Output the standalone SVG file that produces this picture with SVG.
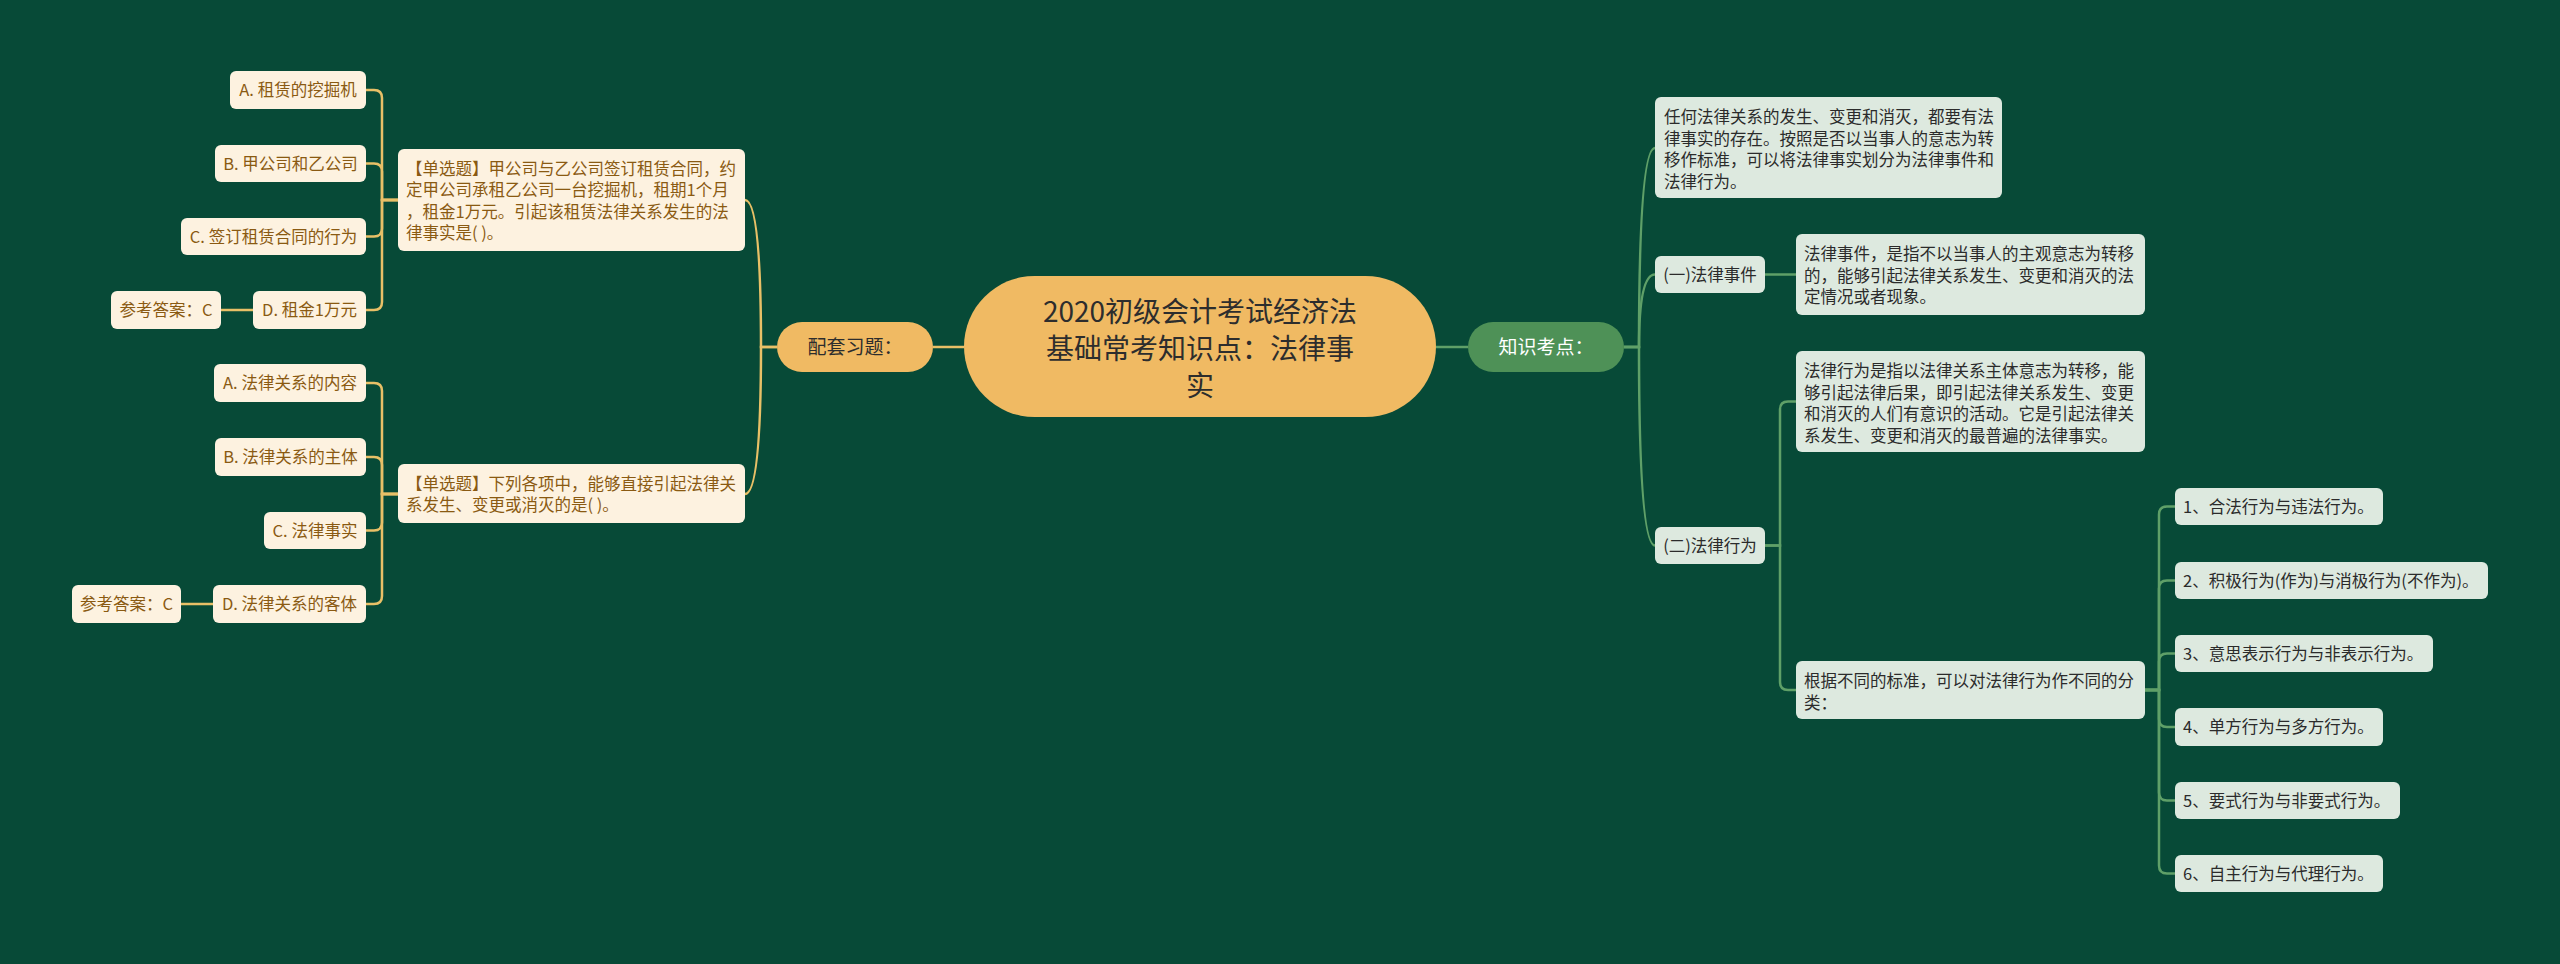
<svg xmlns="http://www.w3.org/2000/svg" width="2560" height="964" viewBox="0 0 2560 964">
<style>
text{font-family:"Noto Sans CJK SC","Noto Sans",sans-serif;}
.bg{fill:#074a37;}
.ly{fill:#fdf2e0;}
.ty{fill:#8a5a12;font-size:16.5px;}
.rg{fill:#dde9df;}
.tg{fill:#2b2b2b;font-size:16.5px;}
.c{text-anchor:middle;}
.cy{fill:none;stroke:#e8c067;stroke-width:2.5;}
.cg{fill:none;stroke:#5fa068;stroke-width:2.5;}
</style>
<rect class="bg" x="0" y="0" width="2560" height="964"/>
<g id="connectors">
<path class="cy" d="M964 347 H933"/>
<path class="cy" d="M777 347 H761 Q761 200 745 200"/>
<path class="cy" d="M777 347 H761 Q761 494 745 494"/>
<path class="cy" d="M398 200 H382 V98 Q382 90 374 90 H366"/>
<path class="cy" d="M398 200 H382 V171.5 Q382 163.5 374 163.5 H366"/>
<path class="cy" d="M398 200 H382 V228.5 Q382 236.5 374 236.5 H366"/>
<path class="cy" d="M398 200 H382 V302 Q382 310 374 310 H366"/>
<path class="cy" d="M253 310 H221"/>
<path class="cy" d="M398 494 H382 V391 Q382 383 374 383 H366"/>
<path class="cy" d="M398 494 H382 V465 Q382 457 374 457 H366"/>
<path class="cy" d="M398 494 H382 V522.5 Q382 530.5 374 530.5 H366"/>
<path class="cy" d="M398 494 H382 V596 Q382 604 374 604 H366"/>
<path class="cy" d="M213 604 H181"/>
<path class="cg" d="M1436 347 H1468"/>
<path class="cg" d="M1624 347 H1639 Q1639 148 1655 148"/>
<path class="cg" d="M1624 347 H1639 Q1639 274.5 1655 274.5"/>
<path class="cg" d="M1624 347 H1639 Q1639 545.5 1655 545.5"/>
<path class="cg" d="M1765 274.5 H1796"/>
<path class="cg" d="M1765 545.5 H1780 V409.5 Q1780 401.5 1788 401.5 H1796"/>
<path class="cg" d="M1765 545.5 H1780 V682 Q1780 690 1788 690 H1796"/>
<path class="cg" d="M2145 690 H2159 V514.5 Q2159 506.5 2167 506.5 H2175"/>
<path class="cg" d="M2145 690 H2159 V588.5 Q2159 580.5 2167 580.5 H2175"/>
<path class="cg" d="M2145 690 H2159 V661.5 Q2159 653.5 2167 653.5 H2175"/>
<path class="cg" d="M2145 690 H2159 V719 Q2159 727 2167 727 H2175"/>
<path class="cg" d="M2145 690 H2159 V792.5 Q2159 800.5 2167 800.5 H2175"/>
<path class="cg" d="M2145 690 H2159 V865.5 Q2159 873.5 2167 873.5 H2175"/>
</g>
<g id="root">
<rect x="964" y="276" width="472" height="141" rx="70.5" fill="#f0ba63"/>
<text class="c" x="1200" y="322" font-size="28" fill="#2d2d2d">2020初级会计考试经济法</text>
<text class="c" x="1200" y="359" font-size="28" fill="#2d2d2d">基础常考知识点：法律事</text>
<text class="c" x="1200" y="396" font-size="28" fill="#2d2d2d">实</text>
</g>
<g id="exercise">
<rect x="777" y="322" width="156" height="50" rx="25" fill="#f0ba63"/>
<text class="c" x="855" y="354" font-size="19" fill="#2d2d2d">配套习题：</text>
</g>
<g id="knowledge">
<rect x="1468" y="322" width="156" height="50" rx="25" fill="#4e9157"/>
<text class="c" x="1546" y="354" font-size="19" fill="#ffffff">知识考点：</text>
</g>
<g id="q1">
<rect class="ly" x="398" y="149" width="347" height="102" rx="6"/>
<text class="ty" x="406" y="175">【单选题】甲公司与乙公司签订租赁合同，约</text>
<text class="ty" x="406" y="196.3">定甲公司承租乙公司一台挖掘机，租期1个月</text>
<text class="ty" x="406" y="217.6">，租金1万元。引起该租赁法律关系发生的法</text>
<text class="ty" x="406" y="238.9">律事实是( )。</text>
</g>
<g id="q1a"><rect class="ly" x="230" y="71" width="136" height="38" rx="6"/><text class="ty c" x="298" y="96">A. 租赁的挖掘机</text></g>
<g id="q1b"><rect class="ly" x="215" y="145" width="151" height="37" rx="6"/><text class="ty c" x="290.5" y="169.5">B. 甲公司和乙公司</text></g>
<g id="q1c"><rect class="ly" x="181" y="218" width="185" height="37" rx="6"/><text class="ty c" x="273.5" y="242.5">C. 签订租赁合同的行为</text></g>
<g id="q1d"><rect class="ly" x="253" y="291" width="113" height="38" rx="6"/><text class="ty c" x="309.5" y="316">D. 租金1万元</text></g>
<g id="q1ans"><rect class="ly" x="111" y="291" width="110" height="38" rx="6"/><text class="ty c" x="166" y="316">参考答案：C</text></g>
<g id="q2">
<rect class="ly" x="398" y="464" width="347" height="59" rx="6"/>
<text class="ty" x="406" y="490">【单选题】下列各项中，能够直接引起法律关</text>
<text class="ty" x="406" y="511.3">系发生、变更或消灭的是( )。</text>
</g>
<g id="q2a"><rect class="ly" x="214" y="364" width="152" height="38" rx="6"/><text class="ty c" x="290" y="389">A. 法律关系的内容</text></g>
<g id="q2b"><rect class="ly" x="215" y="438" width="151" height="38" rx="6"/><text class="ty c" x="290.5" y="463">B. 法律关系的主体</text></g>
<g id="q2c"><rect class="ly" x="264" y="512" width="102" height="37" rx="6"/><text class="ty c" x="315" y="536.5">C. 法律事实</text></g>
<g id="q2d"><rect class="ly" x="213" y="585" width="153" height="38" rx="6"/><text class="ty c" x="289.5" y="610">D. 法律关系的客体</text></g>
<g id="q2ans"><rect class="ly" x="72" y="585" width="109" height="38" rx="6"/><text class="ty c" x="126.5" y="610">参考答案：C</text></g>
<g id="r0">
<rect class="rg" x="1655" y="97" width="347" height="101" rx="6"/>
<text class="tg" x="1664" y="123">任何法律关系的发生、变更和消灭，都要有法</text>
<text class="tg" x="1664" y="144.5">律事实的存在。按照是否以当事人的意志为转</text>
<text class="tg" x="1664" y="166">移作标准，可以将法律事实划分为法律事件和</text>
<text class="tg" x="1664" y="187.5">法律行为。</text>
</g>
<g id="r1"><rect class="rg" x="1655" y="256" width="110" height="37" rx="6"/><text class="tg c" x="1710" y="280.5">(一)法律事件</text></g>
<g id="r1d">
<rect class="rg" x="1796" y="234" width="349" height="81" rx="6"/>
<text class="tg" x="1804" y="260">法律事件，是指不以当事人的主观意志为转移</text>
<text class="tg" x="1804" y="281.5">的，能够引起法律关系发生、变更和消灭的法</text>
<text class="tg" x="1804" y="303">定情况或者现象。</text>
</g>
<g id="r2"><rect class="rg" x="1655" y="527" width="110" height="37" rx="6"/><text class="tg c" x="1710" y="551.5">(二)法律行为</text></g>
<g id="r2a">
<rect class="rg" x="1796" y="351" width="349" height="101" rx="6"/>
<text class="tg" x="1804" y="377">法律行为是指以法律关系主体意志为转移，能</text>
<text class="tg" x="1804" y="398.5">够引起法律后果，即引起法律关系发生、变更</text>
<text class="tg" x="1804" y="420">和消灭的人们有意识的活动。它是引起法律关</text>
<text class="tg" x="1804" y="441.5">系发生、变更和消灭的最普遍的法律事实。</text>
</g>
<g id="r2b">
<rect class="rg" x="1796" y="661" width="349" height="58" rx="6"/>
<text class="tg" x="1804" y="687">根据不同的标准，可以对法律行为作不同的分</text>
<text class="tg" x="1804" y="708.5">类：</text>
</g>
<g id="i1"><rect class="rg" x="2175" y="488" width="208" height="37" rx="6"/><text class="tg" x="2183" y="512.5">1、合法行为与违法行为。</text></g>
<g id="i2"><rect class="rg" x="2175" y="562" width="313" height="37" rx="6"/><text class="tg" x="2183" y="586.5">2、积极行为(作为)与消极行为(不作为)。</text></g>
<g id="i3"><rect class="rg" x="2175" y="635" width="258" height="37" rx="6"/><text class="tg" x="2183" y="659.5">3、意思表示行为与非表示行为。</text></g>
<g id="i4"><rect class="rg" x="2175" y="708" width="208" height="38" rx="6"/><text class="tg" x="2183" y="733">4、单方行为与多方行为。</text></g>
<g id="i5"><rect class="rg" x="2175" y="782" width="225" height="37" rx="6"/><text class="tg" x="2183" y="806.5">5、要式行为与非要式行为。</text></g>
<g id="i6"><rect class="rg" x="2175" y="855" width="208" height="37" rx="6"/><text class="tg" x="2183" y="879.5">6、自主行为与代理行为。</text></g>
</svg>
